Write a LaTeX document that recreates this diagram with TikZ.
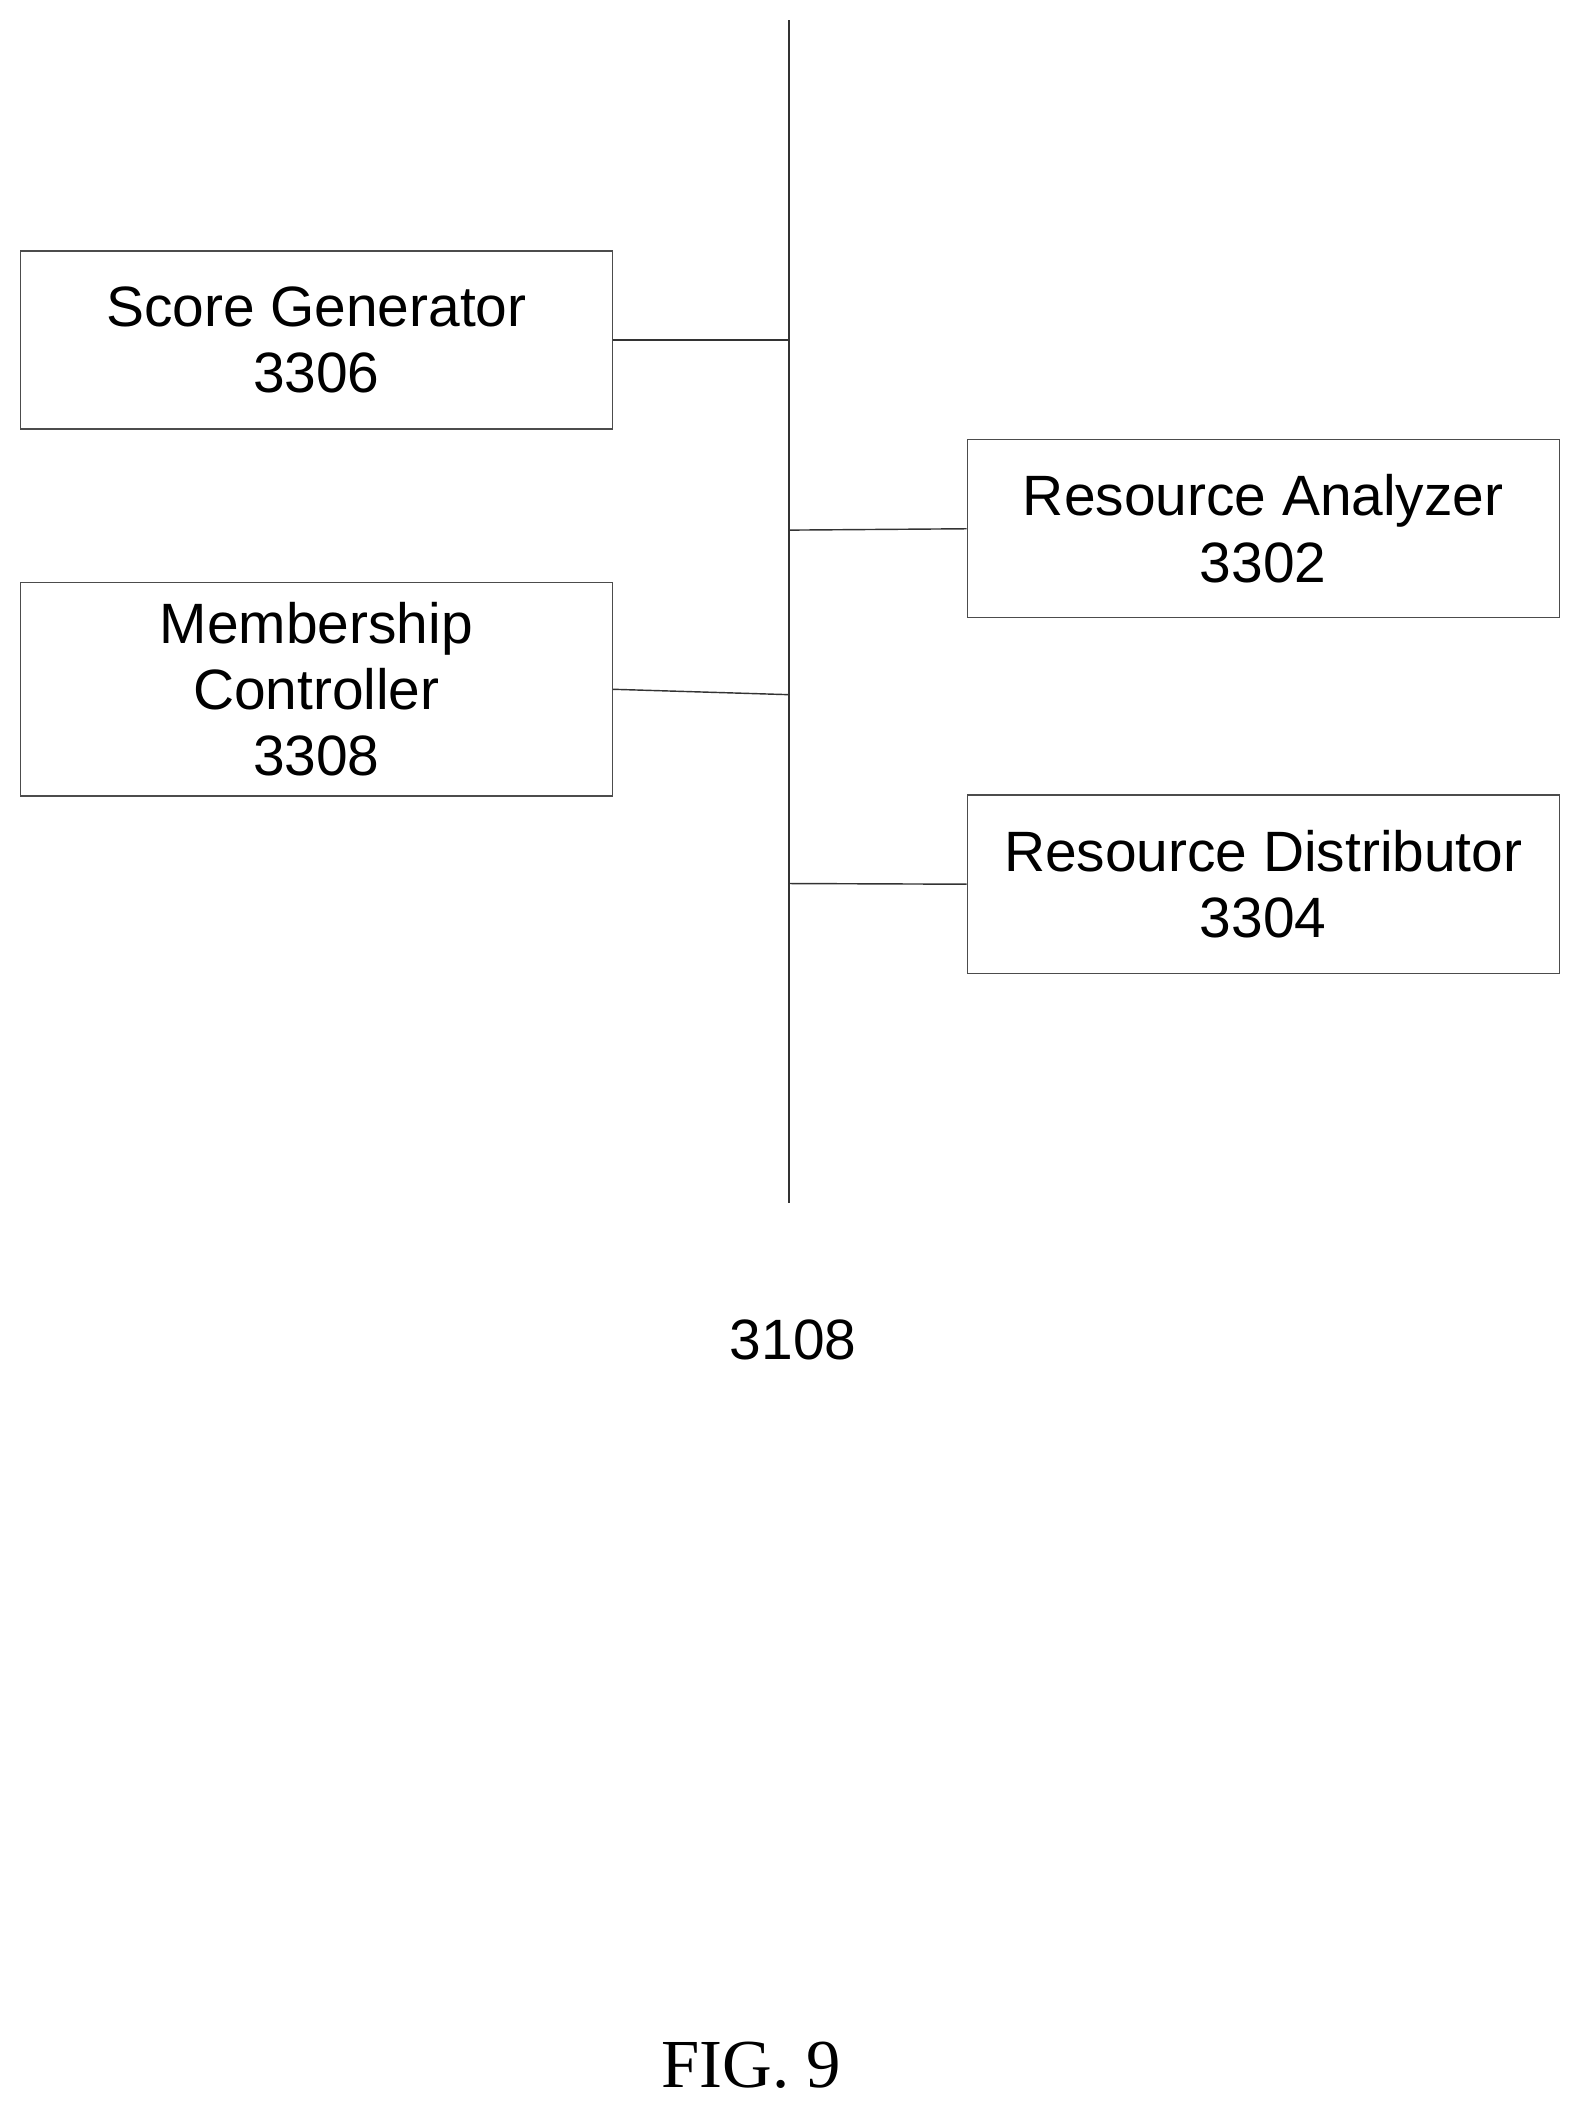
\documentclass[tikz,border=0pt]{standalone}
\usepackage{fontspec}
\setmainfont{Liberation Sans}
\newfontfamily\figfont{Liberation Serif}
\usetikzlibrary{positioning}
\begin{document}
\begin{tikzpicture}[x=0.02cm,y=-0.02cm,
                block/.style={
                  draw=black!70,
                  line width=0.6pt,
                  minimum width=8.78cm,
                  minimum height=2.64cm,
                  align=center,
                  font=\fontsize{24}{28}\selectfont
                  },
                link/.style={
                  draw=black!80,
                  line width=0.6pt
                  }
                ]
                \useasboundingbox (0,0) rectangle (1169,1565);
                % bus
                \coordinate (bustop) at (585,15);
                \coordinate (busbot) at (585,892);
                \draw[link] (bustop) -- (busbot);
                % blocks
                \node[block] (score) at (234.5,252) {Score Generator\\3306};
                \node[block,minimum height=3.16cm] (member) at (234.5,511) {Membership\\Controller\\3308};
                \node[block] (analyzer) at (936.5,392) {Resource Analyzer\\3302};
                \node[block] (distrib) at (936.5,655.5) {Resource Distributor\\3304};
                % taps on the bus
                \coordinate (tscore) at (585,252);
                \coordinate (tmember) at (585,515);
                \coordinate (tanalyzer) at (585,393);
                \coordinate (tdistrib) at (585,655);
                \draw[link] (score.east) -- (tscore);
                \draw[link] (member.east) -- (tmember);
                \draw[link] (tanalyzer) -- (analyzer.west);
                \draw[link] (tdistrib) -- (distrib.west);
                % labels
                \node[font=\fontsize{24}{28}\selectfont] (buslabel) at (588,993) {3108};
                \node[font=\figfont\fontsize{29}{34}\selectfont] (fig) at (557,1531) {FIG. 9};
\end{tikzpicture}
\end{document}
